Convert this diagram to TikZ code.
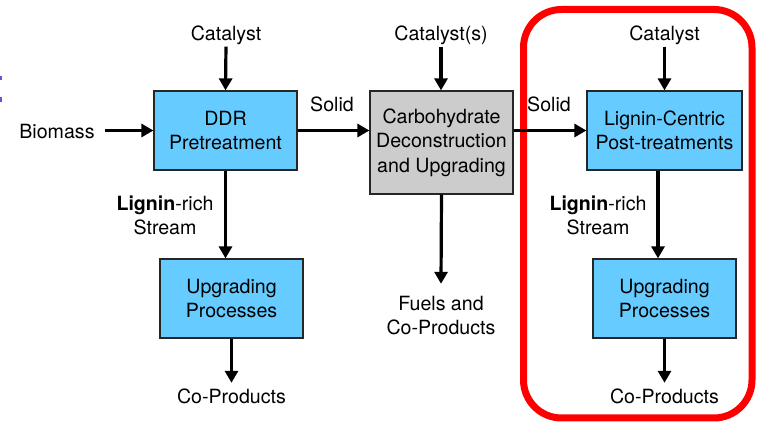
\documentclass[tikz,border=0pt]{standalone}
\usepackage{fontspec}
\setmainfont{TeX Gyre Heros}
\usetikzlibrary{arrows.meta,calc}
\definecolor{procblue}{HTML}{66CCFF}
\definecolor{procgray}{HTML}{CCCCCC}
\definecolor{hilite}{HTML}{FF0000}
\definecolor{edgemark}{HTML}{5A5AD8}
\tikzset{
  proc/.style={draw=black!85, line width=1.2pt, fill=procblue, align=center,
    inner sep=0pt, font=\fontsize{19.6}{24.5}\selectfont},
  lbl/.style={inner sep=0pt, align=center, font=\fontsize{19.6}{24}\selectfont,
    text height=14pt, text depth=4pt},
  flow/.style={line width=3.2pt, -{Triangle[length=12pt,width=13pt]}},
}
\begin{document}
\begin{tikzpicture}[x=1pt,y=-1pt]
\useasboundingbox (0,0) rectangle (761,427);

% small marks at the left edge
\fill[edgemark] (0,76) rectangle (1.6,80.5);
\fill[edgemark] (0,97) rectangle (1.6,102);

% highlight frame around the lignin-centric branch
\draw[hilite, line width=7pt, rounded corners=38pt] (523.5,9.5) rectangle (752,418);

% process boxes
\node[proc, minimum width=143pt, minimum height=79pt] (ddr) at (225.5,130.5) {DDR\\Pretreatment};
\node[proc, fill=procgray, minimum width=143pt, minimum height=103pt] (carb) at (441.5,142.5) {Carbohydrate\\Deconstruction\\and Upgrading};
\node[proc, minimum width=155pt, minimum height=79pt] (lig) at (664.5,130.5) {Lignin-Centric\\Post-treatments};
\node[proc, minimum width=143pt, minimum height=79pt] (upl) at (231.5,298.5) {Upgrading\\Processes};
\node[proc, minimum width=143pt, minimum height=79pt] (upr) at (664.5,298.5) {Upgrading\\Processes};

% labels
\node[lbl, anchor=base] (cat1) at (226,41) {Catalyst};
\node[lbl, anchor=base] (cat2) at (441,41) {Catalyst(s)};
\node[lbl, anchor=base] (cat3) at (664.5,41) {Catalyst};
\node[lbl, anchor=base] (bio) at (57,138.5) {Biomass};
\node[lbl, anchor=base] (sol1) at (332,112) {Solid};
\node[lbl, anchor=base] (sol2) at (549,112) {Solid};
\node[lbl, anchor=base] (lr1) at (165,211) {\textbf{Lignin}-rich};
\node[lbl, anchor=base] (st1) at (165,235) {Stream};
\node[lbl, anchor=base] (lr2) at (598,211) {\textbf{Lignin}-rich};
\node[lbl, anchor=base] (st2) at (598,235) {Stream};
\node[lbl, anchor=base] (fu1) at (441,311) {Fuels and};
\node[lbl, anchor=base] (fu2) at (441,335) {Co-Products};
\node[lbl, anchor=base] (co1) at (231.5,404) {Co-Products};
\node[lbl, anchor=base] (co2) at (664.5,404) {Co-Products};

% exit point of the lignin stream below the post-treatment box
\coordinate (ligout) at ($(lig.south)+(-6.5,0)$);

% catalyst feeds
\draw[flow, shorten <=1.5pt] (cat1.south) -- (ddr.north);
\draw[flow, shorten <=1.5pt] (cat2.south) -- (cat2.south |- carb.north);
\draw[flow, shorten <=1.5pt] (cat3.south) -- (lig.north);

% main streams
\draw[flow] ([xshift=10pt]bio.east |- ddr.west) -- (ddr.west);
\draw[flow] (ddr.east) -- (ddr.east -| carb.west);
\draw[flow] (carb.east |- lig.west) -- (lig.west);

% lignin-rich streams
\draw[flow] (ddr.south) -- (ddr.south |- upl.north);
\draw[flow] (ligout) -- (ligout |- upr.north);

% products
\draw[flow] (carb.south) -- ([yshift=13pt]fu1.north);
\draw[flow] (upl.south) -- ([yshift=7pt]co1.north);
\draw[flow] (upr.south) -- ([yshift=7pt]co2.north);
\end{tikzpicture}
\end{document}
